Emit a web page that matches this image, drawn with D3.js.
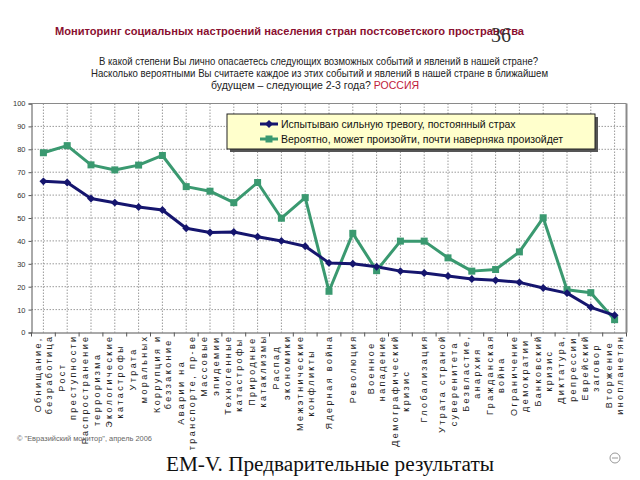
<!DOCTYPE html>
<html>
<head>
<meta charset="utf-8">
<script src="https://cdn.jsdelivr.net/npm/d3@7"></script>
<style>
  html, body { margin: 0; padding: 0; background: #ffffff; }
  svg { display: block; }
</style>
</head>
<body>
<svg id="chart" width="640" height="480"></svg>
<script>
// ---------- DATA ----------
const categories = [
  ["Обнищание,", "безработица"],
  ["Рост", "преступности"],
  ["Распространение", "терроризма"],
  ["Экологические", "катастрофы"],
  ["Утрата", "моральных"],
  ["Коррупция и", "беззаконие"],
  ["Аварии на", "транспорте, пр-ве"],
  ["Массовые", "эпидемии"],
  ["Техногенные", "катастрофы"],
  ["Природные", "катаклизмы"],
  ["Распад", "экономики"],
  ["Межэтнические", "конфликты"],
  ["Ядерная война"],
  ["Революция"],
  ["Военное", "нападение"],
  ["Демографический", "кризис"],
  ["Глобализация"],
  ["Утрата страной", "суверенитета"],
  ["Безвластие,", "анархия"],
  ["Гражданская", "война"],
  ["Ограничение", "демократии"],
  ["Банковский", "кризис"],
  ["Диктатура,", "репрессии"],
  ["Еврейский", "заговор"],
  ["Вторжение", "инопланетян"]
];
const fearValues = [66, 65.5, 58.5, 56.7, 54.8, 53.5, 45.5, 43.7, 43.9, 41.8, 40, 37.7, 30.4, 30, 28.7, 26.8, 26, 24.7, 23.4, 22.8, 21.9, 19.4, 17.2, 11, 7.5];
const likelyValues = [78.5, 81.6, 73.2, 71, 73.1, 77.3, 63.7, 61.7, 56.7, 65.5, 49.9, 58.9, 18, 43.3, 27, 39.9, 39.9, 32.6, 26.8, 27.5, 35.2, 50.1, 18.7, 17.4, 5.6];
const seriesNames = [
  "Испытываю сильную тревогу, постоянный страх",
  "Вероятно, может произойти, почти наверняка произойдет"
];
const yTicks = [0, 10, 20, 30, 40, 50, 60, 70, 80, 90, 100];
const titleText = "Мониторинг социальных настроений населения стран постсоветского пространства";
const questionLines = [
  "В какой степени Вы лично опасаетесь следующих возможных событий и явлений в нашей стране?",
  "Насколько вероятными Вы считаете каждое из этих событий и явлений в нашей стране в ближайшем",
  "будущем – следующие 2-3 года? "
];
const countryText = "РОССИЯ";
const sourceText = "© \"Евразийский монитор\", апрель 2006";
const footerText = "ЕМ-V. Предварительные результаты";
const slideNumber = "36";

// ---------- SETUP ----------
const svg = d3.select("#chart");
const SANS = "'Liberation Sans', Arial, sans-serif";
const SERIF = "'Liberation Serif', 'Times New Roman', serif";
const BLUE = "#15156e";
const GREEN = "#3a9970";

const plot = { left: 31.5, right: 626.5, top: 103.5, bottom: 332.5 };
const idx = categories.map((d, i) => i);
const x = d3.scaleBand().domain(idx).range([plot.left, plot.right]).padding(0);
const cx = i => x(i) + x.bandwidth() / 2;
const y = d3.scaleLinear().domain([0, 100]).range([plot.bottom, plot.top]);

// ---------- TITLES ----------
svg.append("text")
  .attr("x", 55).attr("y", 35)
  .attr("font-family", SANS).attr("font-size", 11).attr("font-weight", "bold")
  .attr("fill", "#8a1030")
  .attr("textLength", 469).attr("lengthAdjust", "spacingAndGlyphs")
  .text(titleText);

svg.append("text")
  .attr("x", 491).attr("y", 42)
  .attr("font-family", SERIF).attr("font-size", 20)
  .attr("fill", "#333")
  .text(slideNumber);

const qWidths = [439, 457];
const qX = [99, 91];
const qY = [65, 77, 89];
questionLines.slice(0, 2).forEach((t, i) => {
  svg.append("text")
    .attr("x", qX[i]).attr("y", qY[i])
    .attr("font-family", SANS).attr("font-size", 10.5)
    .attr("fill", "#222")
    .attr("textLength", qWidths[i]).attr("lengthAdjust", "spacingAndGlyphs")
    .text(t);
});
const q3 = svg.append("text")
  .attr("x", 315).attr("y", qY[2])
  .attr("text-anchor", "middle")
  .attr("font-family", SANS).attr("font-size", 10.5)
  .attr("fill", "#222");
q3.append("tspan").text(questionLines[2]);
q3.append("tspan").attr("fill", "#c0213a").text(countryText);

// ---------- GRID ----------
const g = svg.append("g");
g.selectAll("line.hgrid").data(yTicks.filter(t => t > 0 && t < 100)).join("line")
  .attr("x1", plot.left).attr("x2", plot.right)
  .attr("y1", d => y(d)).attr("y2", d => y(d))
  .attr("stroke", "#9a9a9a").attr("stroke-width", 1).attr("stroke-dasharray", "1.5,1.5");

g.selectAll("line.vgrid").data(idx).join("line")
  .attr("x1", d => cx(d)).attr("x2", d => cx(d))
  .attr("y1", plot.top).attr("y2", plot.bottom)
  .attr("stroke", "#9a9a9a").attr("stroke-width", 1).attr("stroke-dasharray", "1.5,1.5");

// plot border (top/right)
g.append("line").attr("x1", plot.left).attr("x2", plot.right).attr("y1", plot.top).attr("y2", plot.top)
  .attr("stroke", "#8a8a8a").attr("stroke-width", 1);
g.append("line").attr("x1", plot.right).attr("x2", plot.right).attr("y1", plot.top).attr("y2", plot.bottom)
  .attr("stroke", "#8a8a8a").attr("stroke-width", 2);

// ---------- AXES ----------
const yAxis = d3.axisLeft(y).tickValues(yTicks).tickSize(3).tickPadding(3);
const ya = svg.append("g").attr("transform", `translate(${plot.left},0)`).call(yAxis);
ya.select(".domain").attr("stroke", "#555");
ya.selectAll(".tick line").attr("stroke", "#555");
ya.selectAll(".tick text").attr("font-family", SANS).attr("font-size", 7.5).attr("fill", "#333");

const xAxis = d3.axisBottom(x).tickSize(0).tickFormat("");
const xa = svg.append("g").attr("transform", `translate(0,${plot.bottom})`).call(xAxis);
xa.select(".domain").attr("stroke", "#555");
// boundary ticks between categories
xa.selectAll("line.bt").data(d3.range(categories.length + 1)).join("line")
  .attr("x1", i => plot.left + i * x.bandwidth()).attr("x2", i => plot.left + i * x.bandwidth())
  .attr("y1", 0).attr("y2", 4).attr("stroke", "#555");

// category labels (rotated)
const LABEL_FS = 9;
const LINE_H = 11.2;
const LS = 2.4;

const labG = svg.append("g");
categories.forEach((lines, i) => {
  const grp = labG.append("g");
  const n = lines.length;
  const texts = lines.map((t, k) => grp.append("text")
    .attr("font-family", SANS).attr("font-size", LABEL_FS)
    .style("letter-spacing", LS + "px")
    .attr("fill", "#222")
    .attr("text-anchor", "middle")
    .text(t));
  const maxLen = d3.max(texts, t => t.node().getBBox().width);
  const yc = plot.bottom + 2 + maxLen / 2;
  texts.forEach((t, k) => {
    const off = (k - (n - 1) / 2) * LINE_H + 3;
    const px = cx(i) + off;
    t.attr("transform", `translate(${px},${yc}) rotate(-90)`);
  });
});

// ---------- LINES ----------
const lineGen = d3.line().x((d, i) => cx(i)).y(d => y(d));

svg.append("path").datum(likelyValues)
  .attr("d", lineGen).attr("fill", "none")
  .attr("stroke", GREEN).attr("stroke-width", 3).attr("stroke-linejoin", "round");
svg.append("path").datum(fearValues)
  .attr("d", lineGen).attr("fill", "none")
  .attr("stroke", BLUE).attr("stroke-width", 3).attr("stroke-linejoin", "round");

svg.selectAll("rect.gm").data(likelyValues).join("rect")
  .attr("x", (d, i) => cx(i) - 3.5).attr("y", d => y(d) - 3.5)
  .attr("width", 7).attr("height", 7).attr("fill", GREEN);

const diamond = d3.symbol().type(d3.symbolDiamond2).size(40);
svg.selectAll("path.bm").data(fearValues).join("path")
  .attr("d", diamond)
  .attr("transform", (d, i) => `translate(${cx(i)},${y(d)})`)
  .attr("fill", BLUE);

// ---------- LEGEND ----------
const leg = { x: 227, y: 114, w: 368, h: 35 };
svg.append("rect").attr("x", leg.x + 3).attr("y", leg.y + 3).attr("width", leg.w).attr("height", leg.h)
  .attr("fill", "#555");
svg.append("rect").attr("x", leg.x).attr("y", leg.y).attr("width", leg.w).attr("height", leg.h)
  .attr("fill", "#ffffcc").attr("stroke", "#222").attr("stroke-width", 1);
const legColors = [BLUE, GREEN];
seriesNames.forEach((name, i) => {
  const ly = leg.y + 10 + i * 15;
  svg.append("line").attr("x1", leg.x + 33).attr("x2", leg.x + 51).attr("y1", ly).attr("y2", ly)
    .attr("stroke", legColors[i]).attr("stroke-width", 3);
  if (i === 0) {
    svg.append("path").attr("d", diamond).attr("transform", `translate(${leg.x + 42},${ly})`).attr("fill", BLUE);
  } else {
    svg.append("rect").attr("x", leg.x + 42 - 3.5).attr("y", ly - 3.5).attr("width", 7).attr("height", 7).attr("fill", GREEN);
  }
  svg.append("text").attr("x", leg.x + 54).attr("y", ly + 3.6)
    .attr("font-family", SANS).attr("font-size", 10.5).attr("fill", "#111")
    .text(name);
});

// ---------- FOOTER ----------
svg.append("text").attr("x", 17).attr("y", 441)
  .attr("font-family", SANS).attr("font-size", 6.5).attr("fill", "#666")
  .attr("textLength", 135).attr("lengthAdjust", "spacingAndGlyphs")
  .text(sourceText);

svg.append("text").attr("x", 166).attr("y", 471)
  .attr("font-family", SERIF).attr("font-size", 20).attr("fill", "#111")
  .attr("textLength", 328).attr("lengthAdjust", "spacingAndGlyphs")
  .text(footerText);

svg.append("circle").attr("cx", 615).attr("cy", 458).attr("r", 5)
  .attr("fill", "none").attr("stroke", "#999").attr("stroke-width", 1);
svg.append("line").attr("x1", 612).attr("x2", 618).attr("y1", 458).attr("y2", 458)
  .attr("stroke", "#999").attr("stroke-width", 1);
</script>
</body>
</html>
